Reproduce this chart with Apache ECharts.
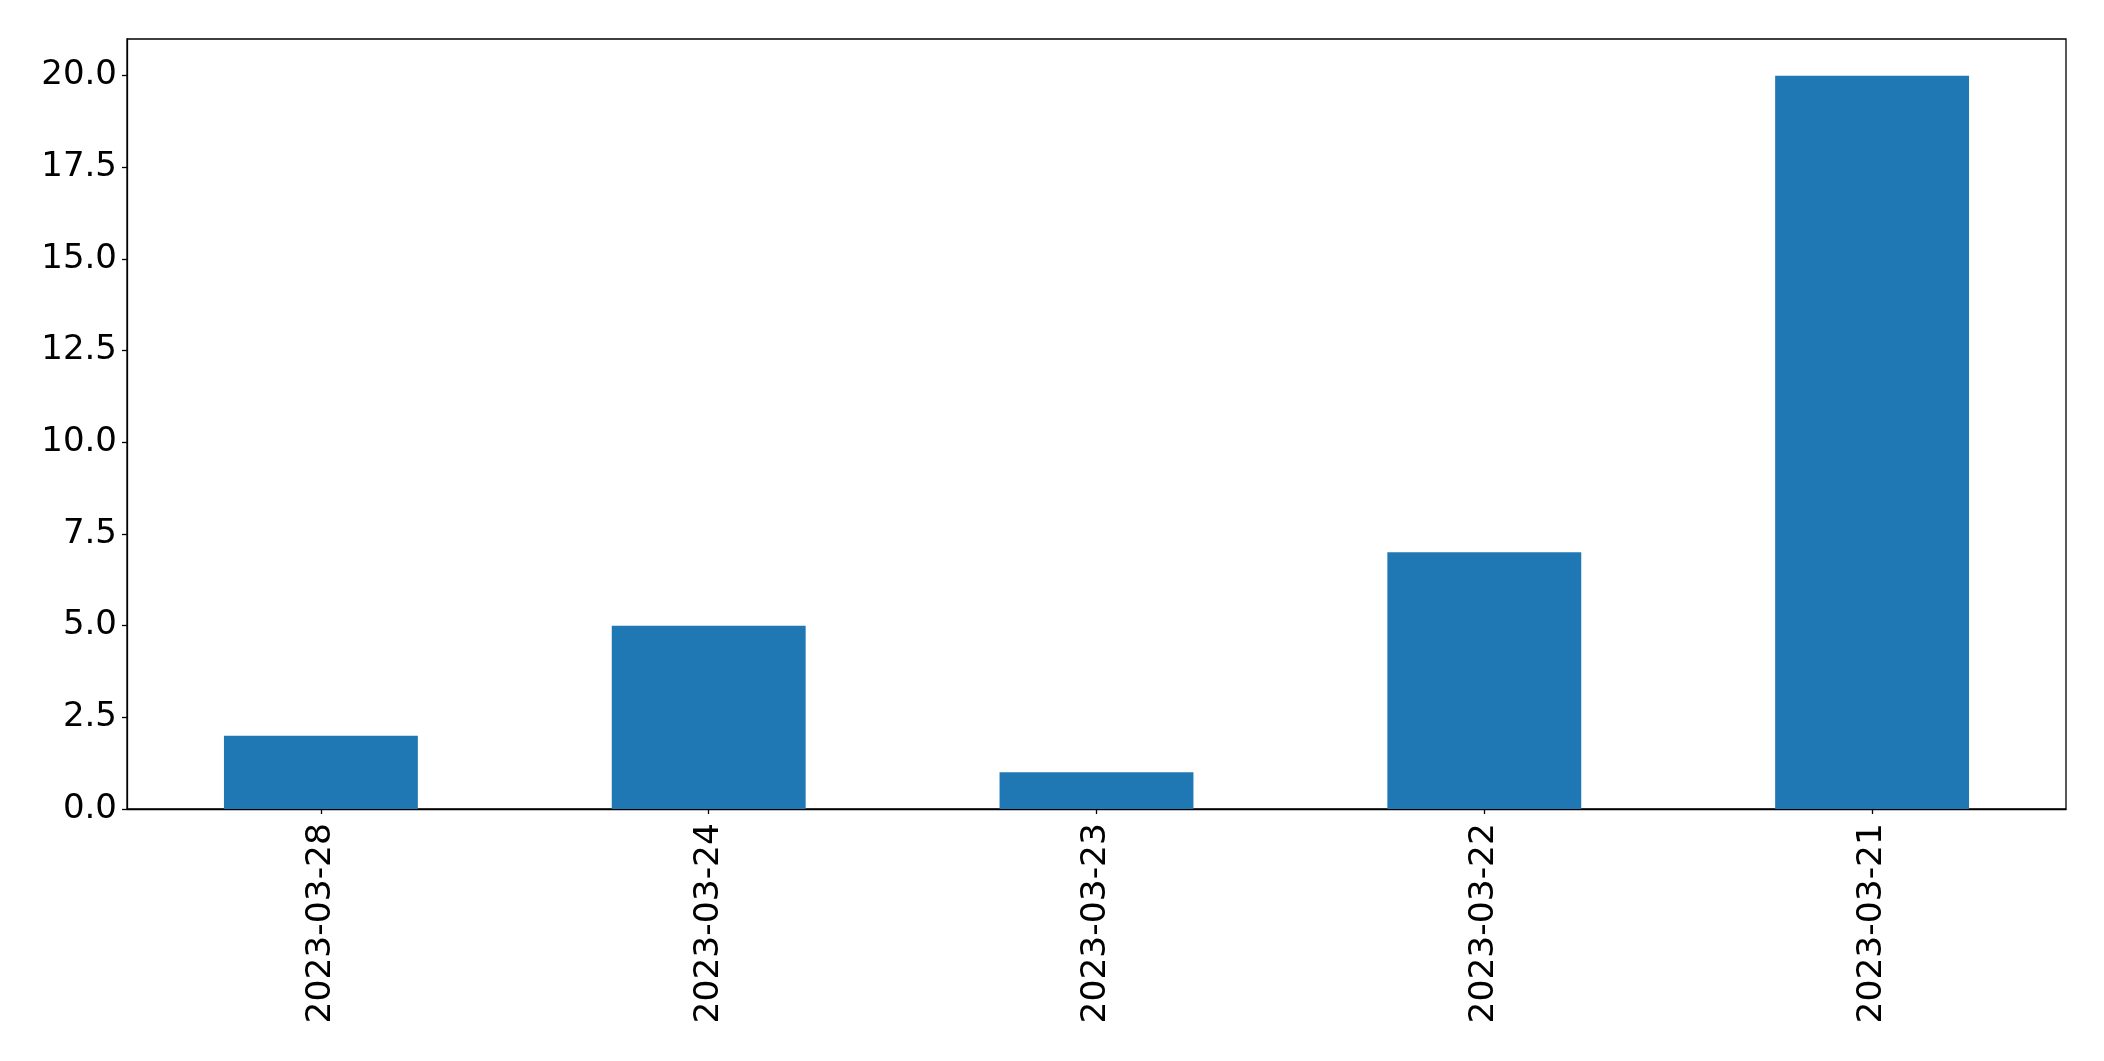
<!DOCTYPE html>
<html>
<head>
<meta charset="utf-8">
<script src="https://cdn.jsdelivr.net/npm/echarts@6/dist/echarts.min.js"></script>
<style>
html,body{margin:0;padding:0;background:#fff;}
#chart{width:2104px;height:1061px;}
</style>
</head>
<body>
<div id="chart"></div>
<script>
const categories = ['2023-03-28', '2023-03-24', '2023-03-23', '2023-03-22', '2023-03-21'];
const values = [2, 5, 1, 7, 20];
const yTicks = [0, 2.5, 5, 7.5, 10, 12.5, 15, 17.5, 20];

const chart = echarts.init(document.getElementById('chart'), null, {renderer: 'canvas'});
const font = 'DejaVu Sans';
chart.setOption({
  animation: false,
  backgroundColor: '#ffffff',
  grid: {
    left: 127, right: 2104 - 2066, top: 39, bottom: 1061 - 809,
    show: true, borderColor: '#000', borderWidth: 1.3, backgroundColor: 'transparent'
  },
  xAxis: {
    type: 'category',
    data: categories,
    boundaryGap: true,
    axisLine: {lineStyle: {color: '#000', width: 1.3}},
    axisTick: {show: true, alignWithLabel: true, length: 5, lineStyle: {color: '#000', width: 1.3}},
    axisLabel: {rotate: 90, color: '#000', fontFamily: font, fontSize: 34.5, margin: 14, interval: 0}
  },
  yAxis: {
    type: 'value',
    min: 0, max: 21,
    splitLine: {show: false},
    axisLine: {show: true, lineStyle: {color: '#000', width: 1.3}},
    axisTick: {show: true, length: 5, customValues: yTicks, lineStyle: {color: '#000', width: 1.3}},
    axisLabel: {
      color: '#000', fontFamily: font, fontSize: 34, margin: 10,
      customValues: yTicks,
      formatter: v => v.toFixed(1)
    }
  },
  series: [{
    type: 'bar',
    data: values,
    barWidth: '50%',
    itemStyle: {color: '#1f77b4'}
  }]
});
</script>
</body>
</html>
